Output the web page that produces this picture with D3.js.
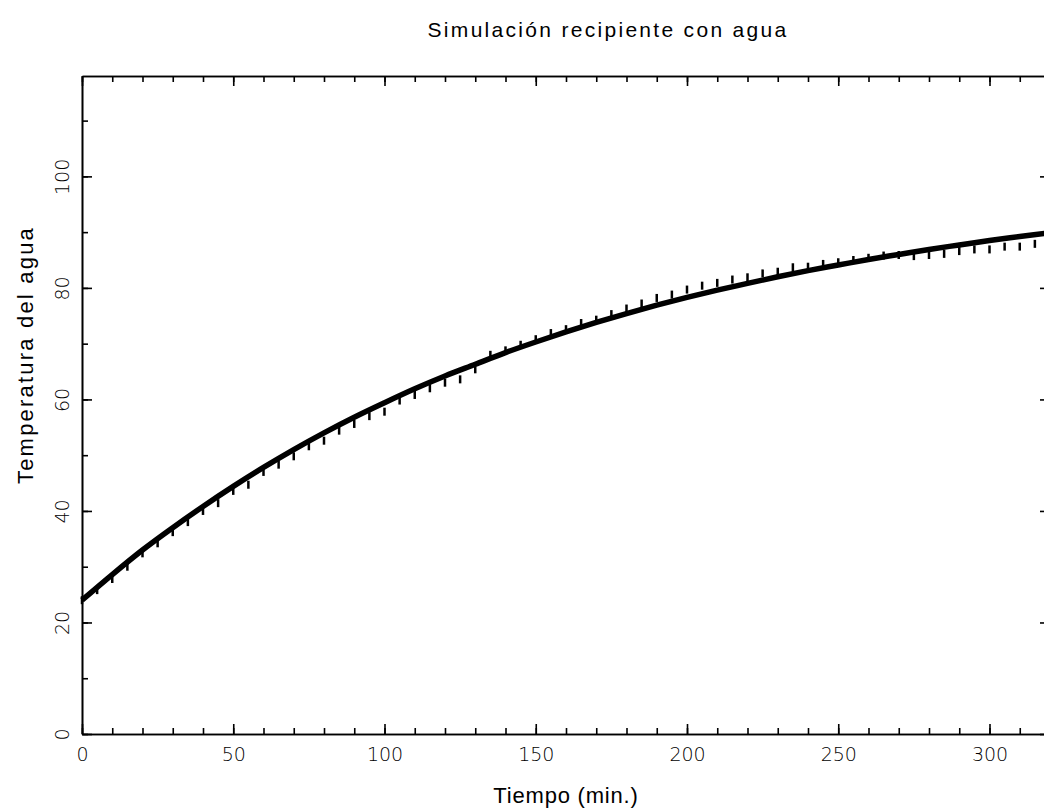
<!DOCTYPE html>
<html>
<head>
<meta charset="utf-8">
<script src="https://cdn.jsdelivr.net/npm/d3@7"></script>
<style>
  body { margin: 0; background: #fff; }
  .tick text { font-family: "DejaVu Sans", sans-serif; font-weight: 200; font-size: 19px; fill: #000; }
  .axis path, .axis line { stroke: #000; stroke-width: 1.6px; }
</style>
</head>
<body>
<div id="chart"></div>
<script>
// Simulated temperature (thick line), every 10 min
const simTimes = [0, 10, 20, 30, 40, 50, 60, 70, 80, 90, 100, 110, 120, 130, 140, 150, 160,
    170, 180, 190, 200, 210, 220, 230, 240, 250, 260, 270, 280, 290, 300, 310, 320];
const simTemps = [24, 28.6, 33.0, 37.0, 40.8, 44.4, 47.8, 51.0, 54.0, 56.8, 59.4, 61.9, 64.2, 66.3,
    68.4, 70.3, 72.1, 73.8, 75.4, 76.9, 78.3, 79.6, 80.8, 82.0, 83.1, 84.1, 85.1, 86.0, 86.9,
    87.7, 88.5, 89.2, 89.9];

// Measured temperature (short vertical marks), every 5 min
const measTimes = [0, 5, 10, 15, 20, 25, 30, 35, 40, 45, 50, 55, 60, 65, 70, 75, 80, 85, 90, 95,
    100, 105, 110, 115, 120, 125, 130, 135, 140, 145, 150, 155, 160, 165, 170, 175, 180, 185,
    190, 195, 200, 205, 210, 215, 220, 225, 230, 235, 240, 245, 250, 255, 260, 265, 270, 275,
    280, 285, 290, 295, 300, 305, 310, 315];
const measTemps = [24.0, 25.8, 27.8, 30.0, 32.4, 34.2, 36.2, 38.0, 40.0, 41.4, 43.6, 44.7, 47.0,
    48.3, 49.8, 51.6, 52.6, 54.4, 55.6, 57.0, 57.8, 59.8, 60.8, 62.0, 63.0, 63.6, 65.4, 68.0,
    68.8, 69.8, 70.8, 71.9, 72.6, 73.7, 74.3, 75.3, 76.3, 77.2, 78.2, 78.8, 79.7, 80.4, 80.9,
    81.5, 81.9, 82.6, 82.9, 83.7, 83.8, 84.3, 84.6, 85.0, 85.4, 85.8, 85.9, 85.7, 85.9, 86.1,
    86.6, 86.9, 86.9, 87.4, 87.4, 87.9];

// Axis ticks
const xMajor = [0, 50, 100, 150, 200, 250, 300];
const xMinor = d3.range(0, 321, 10);
const yMajor = [0, 20, 40, 60, 80, 100];
const yMinor = d3.range(0, 118, 10);

const W = 1044, H = 810;
const plotLeft = 82, plotRight = 1050, plotTop = 76, plotBottom = 734;

const svg = d3.select('#chart').append('svg')
    .attr('width', W)
    .attr('height', H);

const x = d3.scaleLinear().domain([0, 320]).range([plotLeft, plotRight]);
const y = d3.scaleLinear().domain([0, 118]).range([plotBottom, plotTop]);

// Minor ticks (no labels) on all four sides
function minorAxis(axisFn, scale, vals, size) {
    return axisFn(scale).tickValues(vals).tickSize(size).tickSizeOuter(0).tickFormat('');
}

svg.append('g').attr('class', 'axis')
    .attr('transform', `translate(0,${plotBottom})`)
    .call(minorAxis(d3.axisBottom, x, xMinor, -6));
svg.append('g').attr('class', 'axis')
    .attr('transform', `translate(0,${plotTop})`)
    .call(minorAxis(d3.axisTop, x, xMinor, -6));
svg.append('g').attr('class', 'axis')
    .attr('transform', `translate(${plotLeft},0)`)
    .call(minorAxis(d3.axisLeft, y, yMinor, -6));
svg.append('g').attr('class', 'axis')
    .attr('transform', `translate(${plotRight},0)`)
    .call(minorAxis(d3.axisRight, y, yMinor, -6));

// Major ticks with labels
svg.append('g').attr('class', 'axis')
    .attr('transform', `translate(0,${plotBottom})`)
    .call(d3.axisBottom(x).tickValues(xMajor).tickSize(-10).tickSizeOuter(0).tickPadding(14));
svg.append('g').attr('class', 'axis')
    .attr('transform', `translate(0,${plotTop})`)
    .call(d3.axisTop(x).tickValues(xMajor).tickSize(-10).tickSizeOuter(0).tickFormat(''));
const yAxisG = svg.append('g').attr('class', 'axis')
    .attr('transform', `translate(${plotLeft},0)`)
    .call(d3.axisLeft(y).tickValues(yMajor).tickSize(-10).tickSizeOuter(0));
svg.append('g').attr('class', 'axis')
    .attr('transform', `translate(${plotRight},0)`)
    .call(d3.axisRight(y).tickValues(yMajor).tickSize(-10).tickSizeOuter(0).tickFormat(''));

// Rotate y tick labels
yAxisG.selectAll('.tick text')
    .attr('x', 0).attr('dy', null)
    .attr('text-anchor', 'middle')
    .attr('transform', 'translate(-13,0) rotate(-90)');

// Measured points as short vertical marks
svg.append('g').selectAll('line')
    .data(measTimes.map((t, i) => ({ t, v: measTemps[i] })))
    .enter()
    .append('line')
    .attr('x1', d => x(d.t))
    .attr('x2', d => x(d.t))
    .attr('y1', d => y(d.v) - 4)
    .attr('y2', d => y(d.v) + 4)
    .attr('stroke', '#000')
    .attr('stroke-width', 2.5);

// Simulated curve
const line = d3.line()
    .x(d => x(d.t))
    .y(d => y(d.v))
    .curve(d3.curveMonotoneX);

svg.append('path')
    .datum(simTimes.map((t, i) => ({ t, v: simTemps[i] })))
    .attr('d', line)
    .attr('fill', 'none')
    .attr('stroke', '#000')
    .attr('stroke-width', 5.5);

// Titles
svg.append('text')
    .attr('x', 608).attr('y', 37)
    .attr('text-anchor', 'middle')
    .style('font-family', 'Liberation Sans, Arial, sans-serif')
    .style('font-size', '21px')
    .style('letter-spacing', '2.3px')
    .text('Simulación recipiente con agua');

svg.append('text')
    .attr('x', 566).attr('y', 803)
    .attr('text-anchor', 'middle')
    .style('font-family', 'Liberation Sans, Arial, sans-serif')
    .style('font-size', '22px')
    .style('letter-spacing', '0.8px')
    .text('Tiempo (min.)');

svg.append('text')
    .attr('transform', 'translate(33,355) rotate(-90)')
    .attr('text-anchor', 'middle')
    .style('font-family', 'Liberation Sans, Arial, sans-serif')
    .style('font-size', '22px')
    .style('letter-spacing', '2.2px')
    .text('Temperatura del agua');
</script>
</body>
</html>
